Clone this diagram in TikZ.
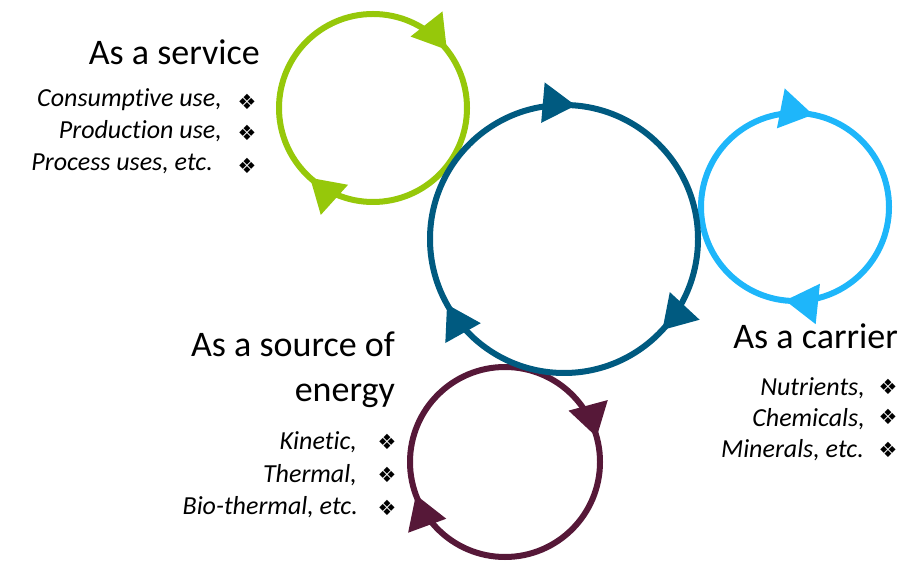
\documentclass[tikz,border=0pt]{standalone}
\usepackage{fontspec}
\setmainfont{Carlito}[RawFeature={-liga;-clig;-calt;-dlig}]
\newfontfamily\bulletfont{DejaVu Sans}
\usetikzlibrary{decorations.markings,arrows.meta}
\definecolor{serviceGreen}{RGB}{150,200,10}
\definecolor{cycleBlue}{RGB}{0,90,128}
\definecolor{carrierBlue}{RGB}{30,182,250}
\definecolor{energyPurple}{RGB}{86,24,56}
\tikzset{
  % ring line, drawn clockwise from its east point
  ring/.style={line width=6pt},
  % arrow head at a fraction of the ring
  ring arrow/.style={postaction={decorate,decoration={
        markings,
        mark=at position #1 with {\arrow{Triangle[length=33pt,width=39pt]}}
      }}},
  heading/.style={anchor=base east, inner sep=0pt, font=\fontsize{36}{40}\selectfont},
  item/.style={anchor=base east, inner sep=0pt, font=\fontsize{26}{30}\selectfont\itshape},
  bullet/.style={inner sep=0pt, font=\bulletfont\fontsize{21}{24}\selectfont},
}

\begin{document}
\begin{tikzpicture}[x=1pt,y=1pt]
\useasboundingbox (0,0) rectangle (910,570);

% Ring centres
\coordinate (service) at (373,462);
\coordinate (energy) at (505,108);
\coordinate (carrier) at (795,363);
\coordinate (cycle) at (564,331);

% Rings
\draw[ring, serviceGreen, ring arrow=0.894, ring arrow=0.367]
  (service) ++(0:94pt) arc[start angle=0, end angle=-360, radius=94pt];
\draw[ring, energyPurple, ring arrow=0.958, ring arrow=0.444]
  (energy) ++(0:95pt) arc[start angle=0, end angle=-360, radius=95pt];
\draw[ring, carrierBlue, ring arrow=0.781, ring arrow=0.267]
  (carrier) ++(0:94pt) arc[start angle=0, end angle=-360, radius=94pt];
\draw[ring, cycleBlue, ring arrow=0.764, ring arrow=0.119, ring arrow=0.419]
  (cycle) ++(0:134pt) arc[start angle=0, end angle=-360, radius=134pt];

% As a service
\node[heading] (serviceTitle) at (260,505) {As a service};
\node[item] (consumptive) at (222,463) {Consumptive use,};
\node[item] (production) at (222,431) {Production use,};
\node[item] (process) at (213,399) {Process uses, etc.};
\foreach \y [count=\i] in {468,437,404}
  \node[bullet] (serviceBullet\i) at (247,\y) {❖};

% As a source of energy
\node[heading] (energyTitle) at (395,213) {As a source of};
\node[heading] (energyTitleB) at (395,168) {energy};
\node[item] (kinetic) at (357,120) {Kinetic,};
\node[item] (thermal) at (357,87) {Thermal,};
\node[item] (biothermal) at (358,55) {Bio-thermal, etc.};
\foreach \y [count=\i] in {128,95,62}
  \node[bullet] (energyBullet\i) at (387,\y) {❖};

% As a carrier
\node[heading] (carrierTitle) at (898,221) {As a carrier};
\node[item] (nutrients) at (865,174) {Nutrients,};
\node[item] (chemicals) at (865,143) {Chemicals,};
\node[item] (minerals) at (864,112) {Minerals, etc.};
\foreach \y [count=\i] in {183,153,120}
  \node[bullet] (carrierBullet\i) at (888,\y) {❖};

\end{tikzpicture}
\end{document}
